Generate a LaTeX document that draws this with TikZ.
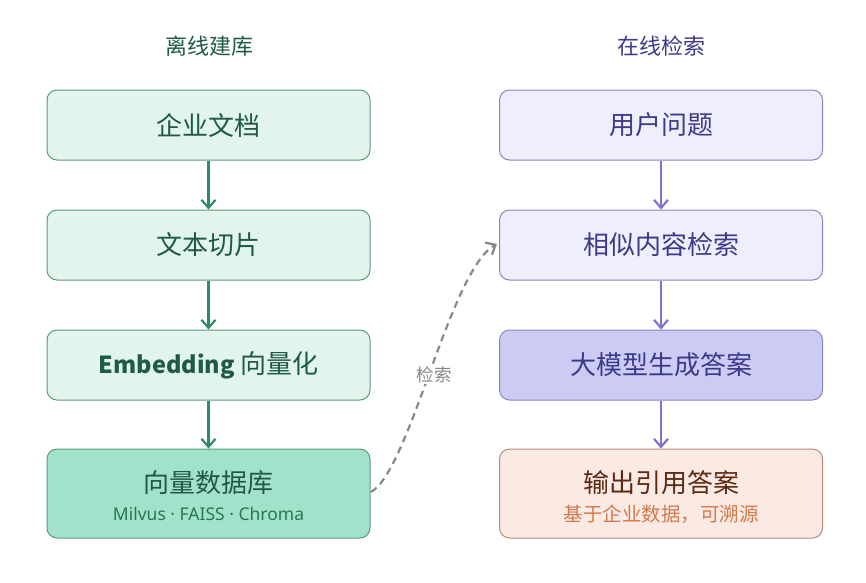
\documentclass[tikz,border=0pt]{standalone}
\usepackage{fontspec}
\setmainfont{Noto Sans CJK SC}
\newfontfamily\latinsans{Noto Sans}
\usetikzlibrary{arrows.meta}
\definecolor{gfill}{HTML}{E2F5EC}
\definecolor{gfilldark}{HTML}{A3E2CA}
\definecolor{gdraw}{HTML}{5A9A7C}
\definecolor{gtext}{HTML}{1E5A44}
\definecolor{garrow}{HTML}{2E8B64}
\definecolor{pfill}{HTML}{EEEEFC}
\definecolor{pfilldark}{HTML}{CBCBF3}
\definecolor{pdraw}{HTML}{8A84C4}
\definecolor{ptext}{HTML}{3E3A8A}
\definecolor{parrow}{HTML}{7E72CC}
\definecolor{ofill}{HTML}{FBEAE3}
\definecolor{odraw}{HTML}{B88A78}
\definecolor{otext}{HTML}{5C2A12}
\definecolor{osub}{HTML}{D27A4C}
\definecolor{graytext}{HTML}{888888}
\tikzset{
  box/.style={rounded corners=10pt, minimum width=323pt, minimum height=70pt, line width=1pt, inner sep=0pt},
  gbox/.style={box, draw=gdraw, fill=gfill, text=gtext, font=\fontsize{26}{30}\selectfont},
  pbox/.style={box, draw=pdraw, fill=pfill, text=ptext, font=\fontsize{26}{30}\selectfont},
  obox/.style={box, draw=odraw, fill=ofill},
  title/.style={font=\fontsize{22}{26}\selectfont},
  garr/.style={draw=garrow, line width=2.2pt, -{Straight Barb[length=8pt,width=14pt,line width=2.2pt]}},
  parr/.style={draw=parrow, line width=2.2pt, -{Straight Barb[length=8pt,width=14pt,line width=2.2pt]}},
}
\begin{document}
\begin{tikzpicture}[x=1pt,y=1pt]
\useasboundingbox (0,0) rectangle (866,-582);
% titles
\node[title, text=gtext] (tl) at (209,-46) {离线建库};
\node[title, text=ptext] (tr) at (661,-46) {在线检索};
% left column
\node[gbox] (l1) at (208.5,-125) {企业文档};
\node[gbox] (l2) at (208.5,-245) {文本切片};
\node[gbox] (l3) at (208.5,-365) {{\fontsize{23.5}{28}\selectfont\bfseries Embedding} 向量化};
\node[gbox, fill=gfilldark, minimum height=89pt] (l4) at (208.5,-493.5) {};
\node[text=gtext, font=\fontsize{26}{30}\selectfont] (l4a) at (208.5,-483) {向量数据库};
\node[text=garrow!85!black, font=\latinsans\fontsize{17.5}{20}\selectfont] (l4b) at (208.5,-514) {Milvus · FAISS · Chroma};
% right column
\node[pbox] (r1) at (661,-125) {用户问题};
\node[pbox] (r2) at (661,-245) {相似内容检索};
\node[pbox, fill=pfilldark] (r3) at (661,-365) {大模型生成答案};
\node[obox, minimum height=89pt] (r4) at (661,-493.5) {};
\node[text=otext, font=\fontsize{26}{30}\selectfont] (r4a) at (661,-483) {输出引用答案};
\node[text=osub, font=\fontsize{19.5}{22}\selectfont] (r4b) at (661,-514) {基于企业数据，可溯源};
% arrows
\draw[garr] (l1.south) -- (l2.north);
\draw[garr] (l2.south) -- (l3.north);
\draw[garr] (l3.south) -- (l4.north);
\draw[parr] (r1.south) -- (r2.north);
\draw[parr] (r2.south) -- (r3.north);
\draw[parr] (r3.south) -- (r4.north);
% dashed retrieval curve
\coordinate (cs) at (371,-492);
\coordinate (ce) at (497,-244);
\draw[draw=graytext, line width=2.2pt, dash pattern=on 7pt off 5pt,
  -{Straight Barb[length=8pt,width=14pt,line width=2.2pt]}]
  (cs) .. controls (410,-470) and (450,-270) .. (ce);
\node[fill=white, inner sep=1pt, text=graytext, font=\fontsize{17.5}{20}\selectfont] (lab) at (434,-375) {检索};
\end{tikzpicture}
\end{document}
